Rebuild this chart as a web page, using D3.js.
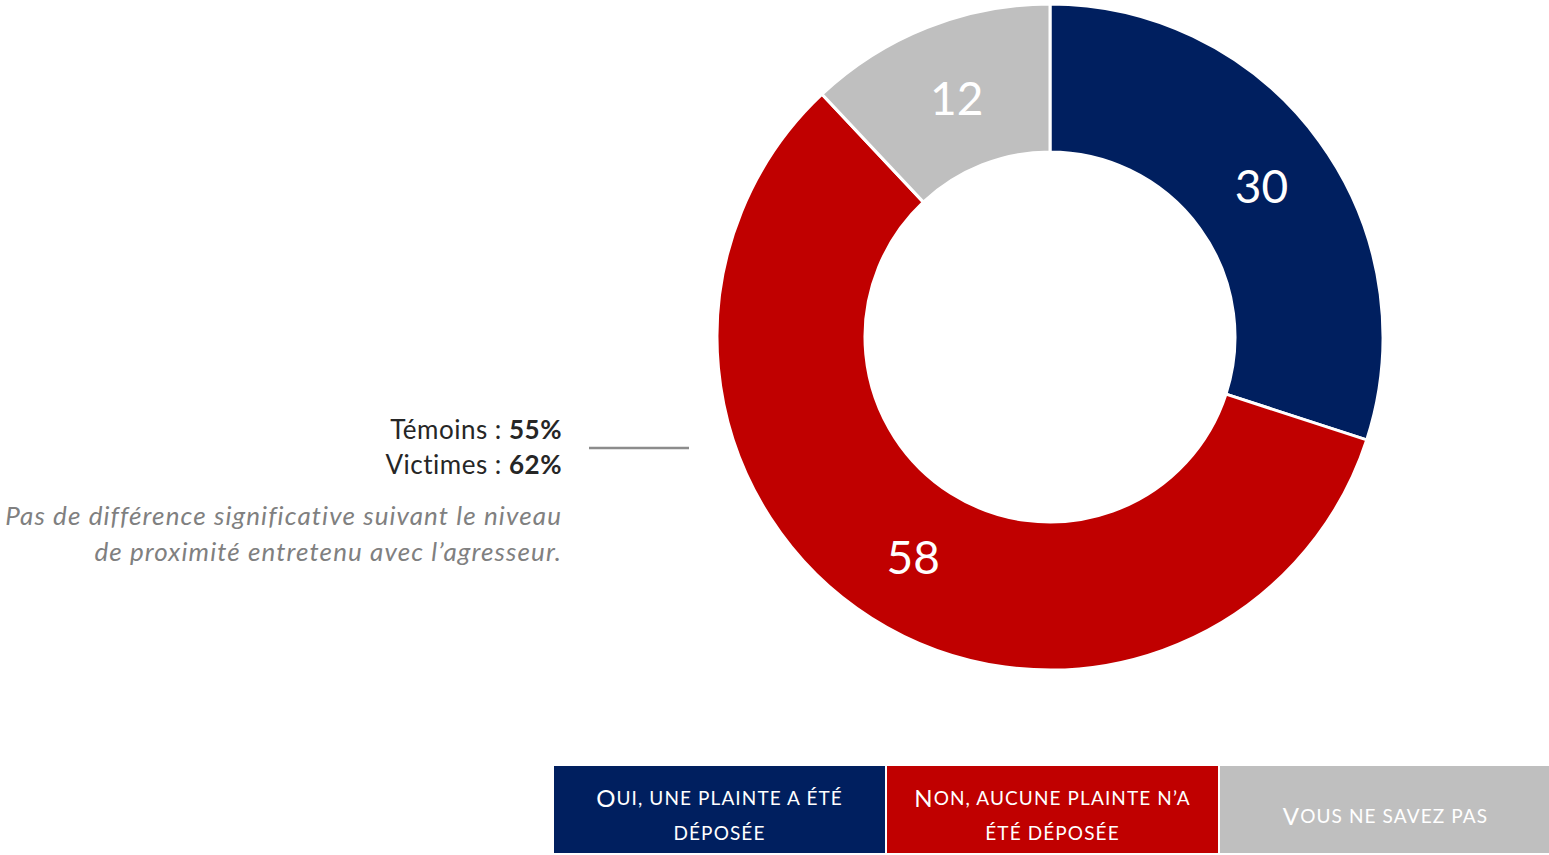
<!DOCTYPE html>
<html>
<head>
<meta charset="utf-8">
<script src="https://cdn.jsdelivr.net/npm/d3@7"></script>
<style>
  body { margin: 0; background: #fff; font-family: Lato, "Open Sans", sans-serif; }
</style>
</head>
<body>
<div id="chart"></div>
<script>
// data
const categories = ["Oui, une plainte a été déposée", "Non, aucune plainte n’a été déposée", "Vous ne savez pas"];
const legendLines = [["Oui, une plainte a été", "déposée"], ["Non, aucune plainte n’a", "été déposée"], ["Vous ne savez pas"]];
const values = [30, 58, 12];
const colors = ["#001f5f", "#c00000", "#bfbfbf"];
const noteGroups = ["Témoins", "Victimes"];
const noteValues = ["55%", "62%"];
const noteText = ["Pas de différence significative suivant le niveau", "de proximité entretenu avec l’agresseur."];

const width = 1549, height = 855;
const cx = 1050, cy = 337, outerR = 333, innerR = 185;

const svg = d3.select("#chart")
  .append("svg")
  .attr("width", width)
  .attr("height", height);

const pie = d3.pie().sort(null).value(d => d);
const arc = d3.arc().innerRadius(innerR).outerRadius(outerR);

const g = svg.append("g").attr("transform", `translate(${cx},${cy})`);

const arcs = pie(values);

g.selectAll("path")
  .data(arcs)
  .enter()
  .append("path")
  .attr("d", arc)
  .attr("fill", (d, i) => colors[i])
  .attr("stroke", "#fff")
  .attr("stroke-width", 3);

g.selectAll("text.val")
  .data(arcs)
  .enter()
  .append("text")
  .attr("class", "val")
  .attr("x", d => arc.centroid(d)[0] + 2)
  .attr("y", d => arc.centroid(d)[1] + 1)
  .attr("text-anchor", "middle")
  .attr("dominant-baseline", "central")
  .attr("fill", "#fff")
  .style("font-size", "46px")
  .text(d => d.data);

// left note
const note = svg.append("g");
noteGroups.forEach((name, i) => {
  const t = note.append("text")
    .attr("x", 562)
    .attr("y", 439 + i * 35)
    .attr("text-anchor", "end")
    .attr("fill", "#262626")
    .style("font-size", "26px")
    .style("letter-spacing", "0.5px");
  t.append("tspan").text(name + " : ");
  t.append("tspan").style("font-weight", "bold").text(noteValues[i]);
});

noteText.forEach((line, i) => {
  note.append("text")
    .attr("x", 562)
    .attr("y", 525 + i * 36)
    .attr("text-anchor", "end")
    .attr("fill", "#808080")
    .style("font-size", "26px")
    .style("font-style", "italic")
    .style("letter-spacing", "1.1px")
    .text(line);
});

note.append("line")
  .attr("x1", 589).attr("x2", 689)
  .attr("y1", 448).attr("y2", 448)
  .attr("stroke", "#8c8c8c")
  .attr("stroke-width", 2.5);

// legend
const lx = d3.scaleBand().domain(d3.range(categories.length)).range([554, 1551]).paddingInner(0.006);
const legend = svg.append("g");
const items = legend.selectAll("g")
  .data(categories)
  .enter()
  .append("g")
  .attr("transform", (d, i) => `translate(${lx(i)},766)`);

items.append("rect")
  .attr("width", lx.bandwidth())
  .attr("height", 87)
  .attr("fill", (d, i) => colors[i]);

// small caps: first letter at full size, the rest upper case at a smaller size
items.each(function (d, i) {
  const lines = legendLines[i];
  lines.forEach((line, j) => {
    const t = d3.select(this).append("text")
      .attr("x", lx.bandwidth() / 2)
      .attr("y", 48.5 + (j - (lines.length - 1) / 2) * 35)
      .attr("text-anchor", "middle")
      .attr("dominant-baseline", "central")
      .attr("fill", "#fff")
      .style("letter-spacing", "1.1px");
    if (j === 0) {
      t.append("tspan").style("font-size", "24px").text(line[0].toUpperCase());
      t.append("tspan").style("font-size", "19px").text(line.slice(1).toUpperCase());
    } else {
      t.append("tspan").style("font-size", "19px").text(line.toUpperCase());
    }
  });
});
</script>
</body>
</html>
